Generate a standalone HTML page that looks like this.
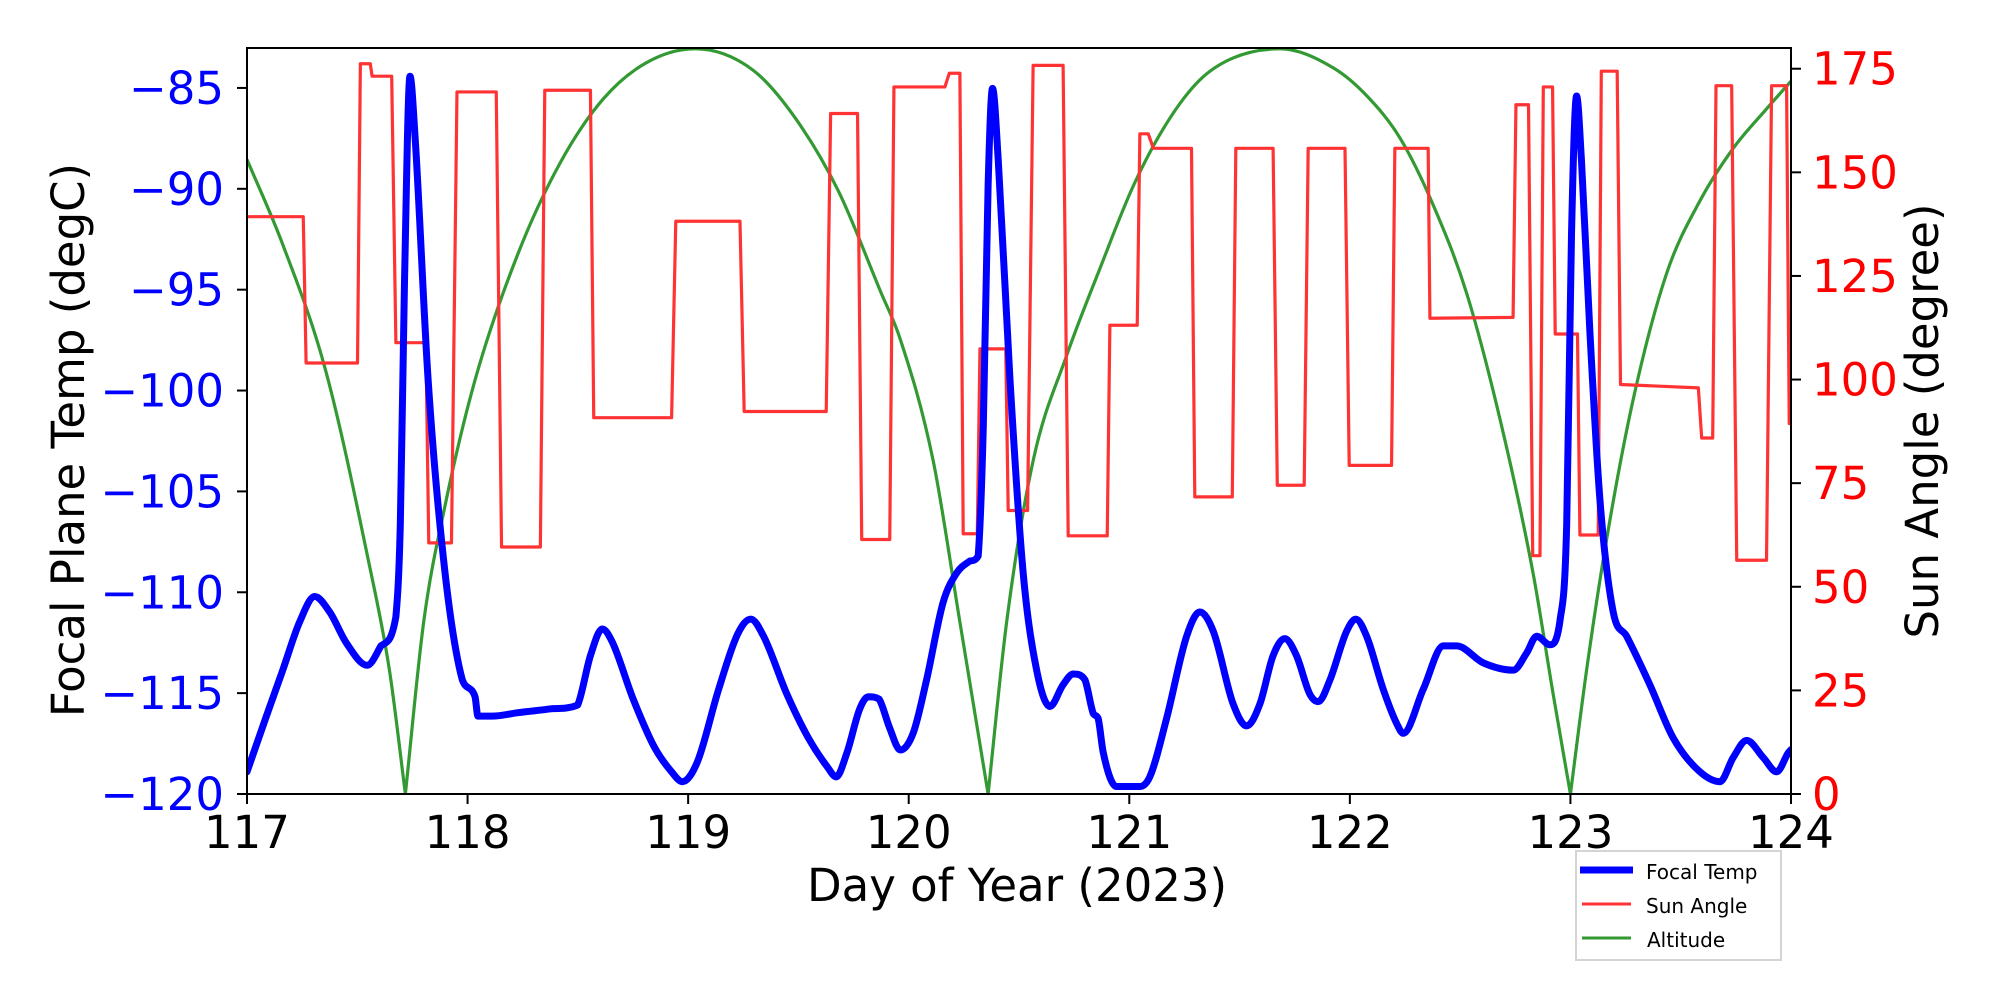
<!DOCTYPE html>
<html><head><meta charset="utf-8"><style>
html,body{margin:0;padding:0;background:#fff;}
svg{display:block;font-family:"DejaVu Sans","Liberation Sans",sans-serif;}
</style></head><body>
<svg id="chart" width="2000" height="1000" viewBox="0 0 2000 1000">
<defs><clipPath id="plotclip"><rect x="247" y="48" width="1544" height="746"/></clipPath></defs>
<g id="plot" clip-path="url(#plotclip)"></g>
<rect x="247" y="48" width="1544" height="746" fill="none" stroke="#000" stroke-width="2"/>
<g id="axes"></g>
<text x="1017" y="901" font-size="45" text-anchor="middle">Day of Year (2023)</text>
<text transform="translate(84,440) rotate(-90)" font-size="45" text-anchor="middle">Focal Plane Temp (degC)</text>
<text transform="translate(1938,421) rotate(-90)" font-size="45" text-anchor="middle">Sun Angle (degree)</text>
<g>
<rect x="1576" y="851" width="205" height="109" fill="#fff" stroke="#d4d4d4" stroke-width="2"/>
<line x1="1580" y1="870" x2="1633" y2="870" stroke="#0000ff" stroke-width="7"/>
<text x="1646" y="879" font-size="20">Focal Temp</text>
<line x1="1582" y1="904" x2="1631" y2="904" stroke="#ff3333" stroke-width="3"/>
<text x="1646" y="913" font-size="20">Sun Angle</text>
<line x1="1582" y1="938" x2="1631" y2="938" stroke="#339a33" stroke-width="3"/>
<text x="1647" y="947" font-size="20">Altitude</text>
</g>
</svg>
<script>
const xTicks=[117,118,119,120,121,122,123,124];
const yLeftTicks=[-85,-90,-95,-100,-105,-110,-115,-120];
const yRightTicks=[0,25,50,75,100,125,150,175];
const focalDays=[117.0,117.084,117.162,117.239,117.307,117.375,117.452,117.545,117.607,117.675,117.695,117.714,117.739,117.762,117.821,117.898,117.976,118.034,118.047,118.111,118.228,118.383,118.499,118.557,118.611,118.654,118.751,118.848,118.925,118.974,119.041,119.138,119.225,119.284,119.342,119.448,119.545,119.632,119.671,119.72,119.778,119.817,119.866,119.914,119.962,120.02,120.081,120.156,120.217,120.277,120.315,120.338,120.36,120.38,120.406,120.459,120.519,120.58,120.64,120.7,120.746,120.799,120.837,120.859,120.882,120.942,121.048,121.093,121.169,121.26,121.32,121.381,121.471,121.532,121.592,121.652,121.705,121.758,121.819,121.857,121.91,121.985,122.027,122.076,122.151,122.212,122.242,122.333,122.424,122.484,122.605,122.741,122.801,122.847,122.907,122.952,122.983,123.005,123.028,123.05,123.088,123.134,123.194,123.255,123.36,123.466,123.587,123.678,123.738,123.799,123.874,123.935,123.988,124.0];
const focalTemps=[-118.9,-116.26,-113.86,-111.46,-110.21,-110.98,-112.54,-113.62,-112.66,-111.21,-106.65,-94.64,-84.42,-87.43,-99.44,-109.05,-114.34,-115.18,-116.14,-116.14,-115.97,-115.77,-115.59,-113.14,-111.82,-112.42,-115.3,-117.7,-118.9,-119.39,-118.43,-114.82,-112.06,-111.33,-112.18,-115.06,-117.22,-118.67,-119.15,-117.95,-115.78,-115.18,-115.3,-116.74,-117.82,-116.99,-114.34,-110.5,-109.05,-108.45,-108.2,-101.84,-89.83,-85.02,-88.6,-99.44,-109.05,-113.86,-115.66,-114.58,-114.05,-114.34,-116.02,-116.26,-117.95,-119.63,-119.63,-119.15,-116.26,-112.18,-110.98,-111.94,-115.54,-116.62,-115.54,-113.14,-112.3,-113.14,-115.06,-115.42,-114.34,-111.94,-111.33,-112.18,-114.8,-116.5,-116.99,-114.8,-112.66,-112.66,-113.5,-113.86,-113.02,-112.18,-112.6,-111.46,-106.65,-92.2,-85.4,-88.6,-97.04,-105.45,-110.98,-112.18,-114.58,-117.22,-118.9,-119.39,-118.19,-117.34,-118.19,-118.9,-117.95,-117.8];
const sunDays=[117.0,117.255,117.268,117.501,117.514,117.559,117.567,117.656,117.675,117.811,117.824,117.927,117.952,118.13,118.154,118.33,118.35,118.557,118.572,118.925,118.944,119.235,119.254,119.626,119.646,119.768,119.787,119.914,119.933,120.164,120.184,120.232,120.247,120.311,120.323,120.44,120.451,120.539,120.564,120.7,120.723,120.9,120.912,121.036,121.048,121.086,121.109,121.282,121.297,121.467,121.483,121.652,121.671,121.793,121.811,121.978,121.997,122.189,122.204,122.355,122.363,122.74,122.753,122.81,122.829,122.862,122.877,122.919,122.931,123.032,123.043,123.126,123.14,123.212,123.227,123.58,123.595,123.645,123.66,123.731,123.754,123.889,123.912,123.98,123.992,124.0];
const sunAngles=[139.3,139.3,104,104,176.2,176.2,173.2,173.2,108.9,108.9,60.6,60.6,169.4,169.4,59.6,59.6,169.8,169.8,90.8,90.8,138.2,138.2,92.3,92.3,164.2,164.2,61.4,61.4,170.6,170.6,173.9,173.9,62.8,62.8,107.4,107.4,68.4,68.4,175.8,175.8,62.3,62.3,113.1,113.1,159.3,159.3,155.8,155.8,71.7,71.7,155.8,155.8,74.5,74.5,155.8,155.8,79.3,79.3,155.8,155.8,114.8,115,166.3,166.3,57.5,57.5,170.6,170.6,111,111,62.5,62.5,174.4,174.4,98.8,98,85.9,85.9,170.9,170.9,56.4,56.4,170.9,170.9,89.4,89.4];
const altDays=[117.0,117.162,117.356,117.549,117.646,117.718,117.801,117.898,118.034,118.228,118.422,118.615,118.809,119.032,119.293,119.487,119.681,119.875,119.96,120.111,120.232,120.36,120.444,120.564,120.716,120.867,121.018,121.169,121.32,121.471,121.683,121.925,122.076,122.227,122.378,122.529,122.68,122.831,122.922,123.0,123.073,123.164,123.285,123.436,123.587,123.738,123.889,124.0];
const altValues=[153.1,132.6,102.3,56.7,29.8,0,41.5,69.6,99.9,130.3,152.5,167.7,176.4,179.8,174.7,163,145.5,120.9,110,80.4,41.5,0,41.5,80.4,105.8,126.8,146.7,161.8,172.3,177.6,179.8,175.2,168.5,158.3,142.1,120.9,90.6,53.2,24,0,29.8,61.4,95.3,125.6,143.1,155.8,165.3,172];

const X0=247,X1=1791,Y0=794,Y1=48;
const xMin=117,xMax=124,tMin=-120,tMax=-83.02,aMin=0,aMax=180;
function sx(d){return X0+(d-xMin)/(xMax-xMin)*(X1-X0);}
function sy(t){return Y0-(t-tMin)/(tMax-tMin)*(Y0-Y1);}
function sa(a){return Y0-(a-aMin)/(aMax-aMin)*(Y0-Y1);}
const NS="http://www.w3.org/2000/svg";
const plot=document.getElementById('plot');
const axes=document.getElementById('axes');
function mk(tag,attrs,parent){const e=document.createElementNS(NS,tag);for(const k in attrs)e.setAttribute(k,attrs[k]);parent.appendChild(e);return e;}
function pathD(xs,ys,fy){return xs.map((d,i)=>(i?'L':'M')+sx(d).toFixed(2)+','+fy(ys[i]).toFixed(2)).join(' ');}
// monotone cubic rendering; points whose value equals cuspValue are drawn as sharp corners
function smoothD(xs,ys,fy,cuspValue){
 const px=xs.map(sx),py=ys.map(fy),n=px.length;
 const dl=[],mIn=new Array(n),mOut=new Array(n);
 for(let i=0;i<n-1;i++)dl.push((py[i+1]-py[i])/(px[i+1]-px[i]));
 mIn[0]=mOut[0]=dl[0];mIn[n-1]=mOut[n-1]=dl[n-2];
 for(let i=1;i<n-1;i++){
  if(cuspValue!==undefined&&ys[i]===cuspValue){mIn[i]=dl[i-1];mOut[i]=dl[i];}
  else{const m=(dl[i-1]*dl[i]<=0)?0:(dl[i-1]+dl[i])/2;mIn[i]=mOut[i]=m;}
 }
 for(let i=0;i<n-1;i++){
  if(dl[i]===0){mOut[i]=0;mIn[i+1]=0;continue;}
  const a=mOut[i]/dl[i],b=mIn[i+1]/dl[i],s=a*a+b*b;
  if(s>9){const t=3/Math.sqrt(s);mOut[i]=t*a*dl[i];mIn[i+1]=t*b*dl[i];}
 }
 let d='M'+px[0].toFixed(2)+','+py[0].toFixed(2);
 for(let i=0;i<n-1;i++){const h=(px[i+1]-px[i])/3;
  d+=' C'+(px[i]+h).toFixed(2)+','+(py[i]+mOut[i]*h).toFixed(2)+' '+(px[i+1]-h).toFixed(2)+','+(py[i+1]-mIn[i+1]*h).toFixed(2)+' '+px[i+1].toFixed(2)+','+py[i+1].toFixed(2);}
 return d;
}

const gAlt=mk('path',{d:smoothD(altDays,altValues,sa,0),fill:'none',stroke:'#339a33','stroke-width':3.2,'stroke-linejoin':'miter'},plot);


const gSun=mk('path',{d:pathD(sunDays,sunAngles,sa),fill:'none',stroke:'#ff3333','stroke-width':3.2,'stroke-linejoin':'round'},plot);


const gFoc=mk('path',{d:smoothD(focalDays,focalTemps,sy),fill:'none',stroke:'#0000ff','stroke-width':7,'stroke-linejoin':'round','stroke-linecap':'round'},plot);



xTicks.forEach(v=>{const x=sx(v);
 const l=mk('line',{x1:x,y1:Y0,x2:x,y2:Y0+10,stroke:'#000','stroke-width':2},axes);
 
 
 const t=mk('text',{x:x,y:Y0+54,'font-size':45,'text-anchor':'middle'},axes);t.textContent=String(v);
 
 
});
yLeftTicks.forEach(v=>{const y=sy(v);
 const l=mk('line',{x1:X0-10,y1:y,x2:X0,y2:y,stroke:'#000','stroke-width':2},axes);
 
 
 const t=mk('text',{x:X0-23,y:y+16,'font-size':45,'text-anchor':'end',fill:'#0000ff'},axes);t.textContent='\u2212'+Math.abs(v);
 
 
});
yRightTicks.forEach(v=>{const y=sa(v);
 const l=mk('line',{x1:X1,y1:y,x2:X1+10,y2:y,stroke:'#000','stroke-width':2},axes);
 
 
 const t=mk('text',{x:X1+21,y:y+16,'font-size':45,'text-anchor':'start',fill:'#ff0000'},axes);t.textContent=String(v);
 
 
});
</script>
</body></html>
